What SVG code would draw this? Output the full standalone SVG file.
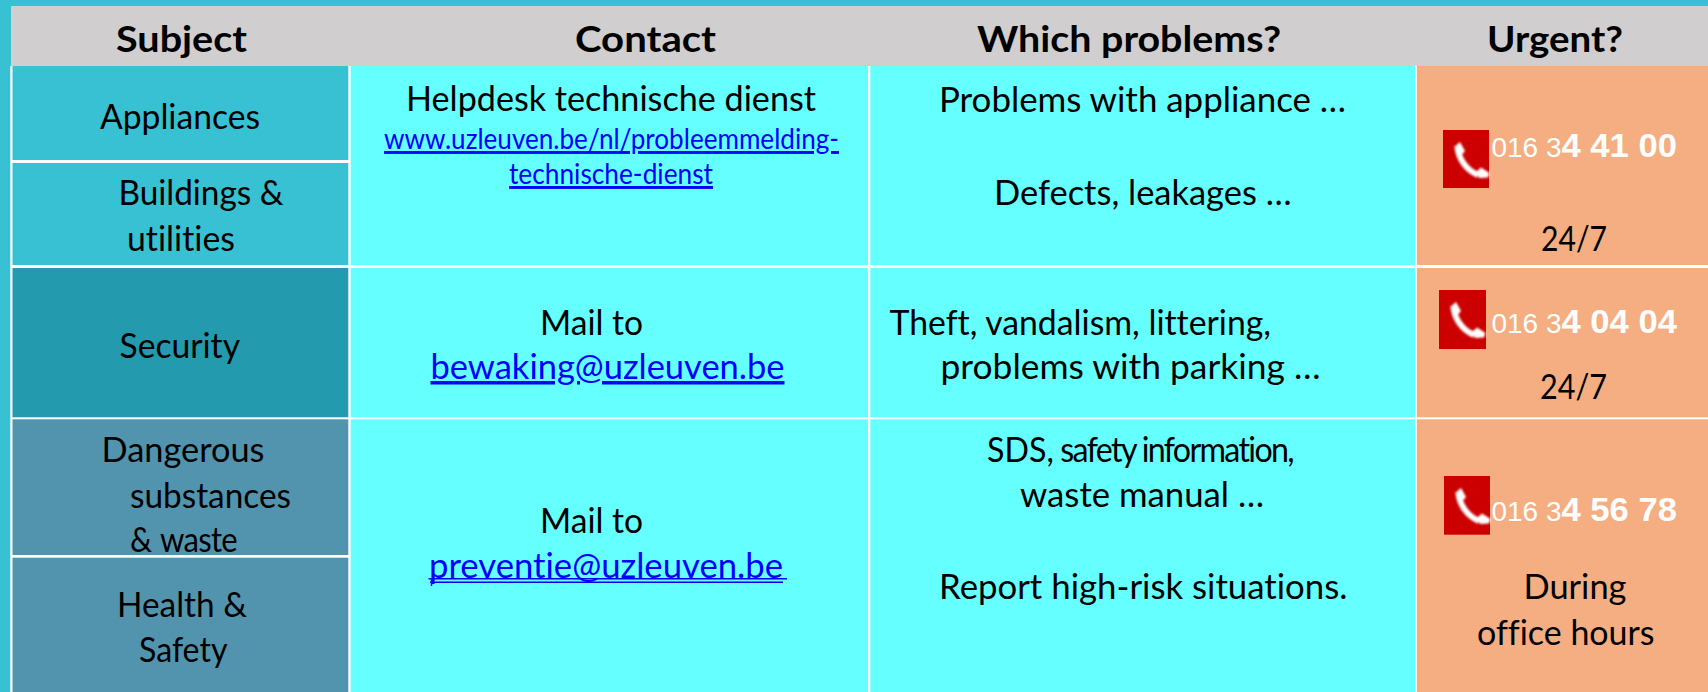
<svg xmlns="http://www.w3.org/2000/svg" xmlns:xlink="http://www.w3.org/1999/xlink" width="1708" height="692" viewBox="0 0 1708 692">
<style>
text{font-family:"Lato","Noto Sans","Liberation Sans",sans-serif;font-size:35px;fill:#000;font-variant-ligatures:none}
.h{font-weight:700;font-size:36px}
.l{fill:#0000ff;text-decoration:underline}
.p{fill:#0000ff}
.s{font-size:29px}
.n{font-family:"Liberation Sans",Arial,sans-serif;fill:#fff;font-size:27px}
.b{font-family:"Liberation Sans",Arial,sans-serif;fill:#fff;font-size:34px;font-weight:700}
.teal{fill:#38c0d3}.sec{fill:#239aad}.dan{fill:#5294ae}.cy{fill:#66ffff}.pe{fill:#f4ae82}.red{fill:#cc0000}
.tight{letter-spacing:-1.800px}
</style>
<defs>
<filter id="soft" x="-20%" y="-20%" width="140%" height="140%"><feGaussianBlur stdDeviation="0.9"/></filter>
<g id="phone" filter="url(#soft)">
<path d="M14.500 16 C15 28 23 40 35 45" fill="none" stroke="#fff" stroke-width="6"/>
<path d="M11.500 17 L17 12 L22 21 L17 27 Z" fill="#fff"/>
<path d="M33 42 L38 37.500 L46.500 43 L45 47.500 L36 48 Z" fill="#fff"/>
</g>
</defs>
<rect width="1708" height="692" fill="#38c0d3"/>
<rect x="10.300" y="66" width="1698" height="626" fill="#fff"/>
<g id="header">
<rect x="11" y="6" width="1697" height="60" fill="#d0cece"/>
<text class="h" x="116" y="51.500" textLength="131" lengthAdjust="spacingAndGlyphs">Subject</text>
<text class="h" x="575" y="51.500" textLength="141" lengthAdjust="spacingAndGlyphs">Contact</text>
<text class="h" x="977" y="51.500" textLength="304" lengthAdjust="spacingAndGlyphs">Which problems?</text>
<text class="h" x="1487" y="51.500" textLength="136" lengthAdjust="spacingAndGlyphs">Urgent?</text>
</g>
<g id="subject-appliances">
<rect class="teal" x="12.500" y="66" width="335.800" height="94"/>
<text x="100" y="129" textLength="160" lengthAdjust="spacingAndGlyphs">Appliances</text>
</g>
<g id="subject-buildings">
<rect class="teal" x="12.500" y="163" width="335.800" height="102"/>
<text x="118.500" y="205" textLength="165" lengthAdjust="spacingAndGlyphs">Buildings &amp;</text>
<text x="127" y="251" textLength="108" lengthAdjust="spacingAndGlyphs">utilities</text>
</g>
<g id="subject-security">
<rect class="sec" x="12.500" y="268" width="335.800" height="149.300"/>
<text x="119.500" y="358" textLength="120.500" lengthAdjust="spacingAndGlyphs">Security</text>
</g>
<g id="subject-dangerous">
<rect class="dan" x="12.500" y="419.300" width="335.800" height="135.700"/>
<text x="101.500" y="462" textLength="163" lengthAdjust="spacingAndGlyphs">Dangerous</text>
<text x="130" y="508" textLength="161" lengthAdjust="spacingAndGlyphs">substances</text>
<text x="130" y="552" textLength="107" lengthAdjust="spacingAndGlyphs">&amp; <tspan letter-spacing="-0.800">waste</tspan></text>
</g>
<g id="subject-health">
<rect class="dan" x="12.500" y="557.700" width="335.800" height="134.300"/>
<text x="117" y="617" textLength="130" lengthAdjust="spacingAndGlyphs">Health &amp;</text>
<text x="139" y="662" textLength="88.500" lengthAdjust="spacingAndGlyphs">Safety</text>
</g>
<g id="contact-helpdesk">
<rect class="cy" x="350.700" y="66" width="517.300" height="199"/>
<text x="406" y="111" textLength="410" lengthAdjust="spacingAndGlyphs">Helpdesk technische dienst</text>
<text class="l s" x="384" y="149" textLength="455" lengthAdjust="spacingAndGlyphs">www.uzleuven.be/nl/probleemmelding-</text>
<text class="l s" x="509" y="184" textLength="204" lengthAdjust="spacingAndGlyphs">technische-dienst</text>
</g>
<g id="contact-security">
<rect class="cy" x="350.700" y="268" width="517.300" height="149.300"/>
<text x="540" y="335" textLength="103" lengthAdjust="spacingAndGlyphs">Mail to</text>
<text class="l" x="430.500" y="379" textLength="354" lengthAdjust="spacingAndGlyphs">bewaking@uzleuven.be</text>
</g>
<g id="contact-prevention">
<rect class="cy" x="350.700" y="419.300" width="517.300" height="272.700"/>
<text x="540" y="533" textLength="103" lengthAdjust="spacingAndGlyphs">Mail to</text>
<text class="p" x="429" y="577.500" textLength="354" lengthAdjust="spacingAndGlyphs">preventie@uzleuven.be</text>
<path d="M428.500 578.800H787M430 582.300H783M431.500 578V586" fill="none" stroke="#0000ff" stroke-width="1.500"/>
</g>
<g id="problems-appliances">
<rect class="cy" x="870.300" y="66" width="544.700" height="199"/>
<text x="939" y="112" textLength="407" lengthAdjust="spacingAndGlyphs">Problems with appliance …</text>
<text x="994" y="205" textLength="297.500" lengthAdjust="spacingAndGlyphs">Defects, leakages …</text>
</g>
<g id="problems-security">
<rect class="cy" x="870.300" y="268" width="544.700" height="149.300"/>
<text x="889.500" y="335" textLength="381.500" lengthAdjust="spacingAndGlyphs">Theft, vandalism, littering,</text>
<text x="940.500" y="379" textLength="380" lengthAdjust="spacingAndGlyphs">problems with parking …</text>
</g>
<g id="problems-dangerous">
<rect class="cy" x="870.300" y="419.300" width="544.700" height="272.700"/>
<text x="987" y="462" textLength="306" lengthAdjust="spacingAndGlyphs">SDS,<tspan class="tight"> safety information,</tspan></text>
<text x="1020" y="507" textLength="244" lengthAdjust="spacingAndGlyphs">waste manual …</text>
<text x="939" y="599" textLength="408.500" lengthAdjust="spacingAndGlyphs">Report high-risk situations.</text>
</g>
<g id="urgent-technical">
<rect class="pe" x="1416.800" y="66" width="291.200" height="199"/>
<rect class="red" x="1443" y="130" width="46" height="58"/>
<use xlink:href="#phone" href="#phone" x="1443" y="130"/>
<text class="n" x="1491.500" y="157" textLength="70" lengthAdjust="spacingAndGlyphs">016 3</text>
<text class="b" x="1561.500" y="157" textLength="115.500" lengthAdjust="spacingAndGlyphs">4 41 00</text>
<text x="1541" y="251" textLength="66" lengthAdjust="spacingAndGlyphs">24/7</text>
</g>
<g id="urgent-security">
<rect class="pe" x="1416.800" y="268" width="291.200" height="149.300"/>
<rect class="red" x="1439" y="290" width="47" height="59"/>
<use xlink:href="#phone" href="#phone" x="1439" y="290"/>
<text class="n" x="1491.500" y="332.500" textLength="70" lengthAdjust="spacingAndGlyphs">016 3</text>
<text class="b" x="1561.500" y="333" textLength="115.500" lengthAdjust="spacingAndGlyphs">4 04 04</text>
<text x="1540" y="399" textLength="67" lengthAdjust="spacingAndGlyphs">24/7</text>
</g>
<g id="urgent-dangerous">
<rect class="pe" x="1416.800" y="419.300" width="291.200" height="272.700"/>
<rect class="red" x="1444" y="476" width="46" height="58.700"/>
<use xlink:href="#phone" href="#phone" x="1444" y="476"/>
<text class="n" x="1491.500" y="521" textLength="70" lengthAdjust="spacingAndGlyphs">016 3</text>
<text class="b" x="1561.500" y="521" textLength="115.500" lengthAdjust="spacingAndGlyphs">4 56 78</text>
<text x="1523.500" y="599" textLength="103" lengthAdjust="spacingAndGlyphs">During</text>
<text x="1477" y="645" textLength="177.500" lengthAdjust="spacingAndGlyphs">office hours</text>
</g>
</svg>
